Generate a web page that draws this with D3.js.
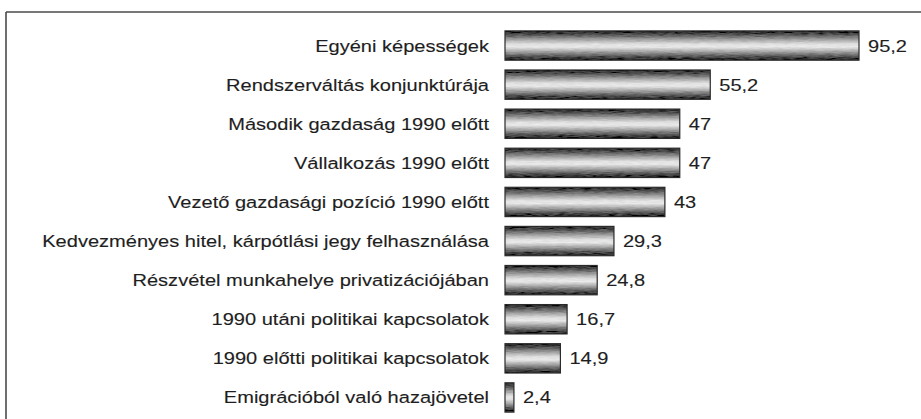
<!DOCTYPE html>
<html>
<head>
<meta charset="utf-8">
<script src="https://cdn.jsdelivr.net/npm/d3@7"></script>
<style>
  html, body { margin: 0; padding: 0; background: #fff; }
  svg { display: block; }
</style>
</head>
<body>
<svg id="chart" width="921" height="419"></svg>
<script>
const categories = [
  "Egyéni képességek",
  "Rendszerváltás konjunktúrája",
  "Második gazdaság 1990 előtt",
  "Vállalkozás 1990 előtt",
  "Vezető gazdasági pozíció 1990 előtt",
  "Kedvezményes hitel, kárpótlási jegy felhasználása",
  "Részvétel munkahelye privatizációjában",
  "1990 utáni politikai kapcsolatok",
  "1990 előtti politikai kapcsolatok",
  "Emigrációból való hazajövetel"
];
const values = [95.2, 55.2, 47, 47, 43, 29.3, 24.8, 16.7, 14.9, 2.4];
const valueLabels = ["95,2", "55,2", "47", "47", "43", "29,3", "24,8", "16,7", "14,9", "2,4"];

const data = categories.map((c, i) => ({ cat: c, v: values[i], lbl: valueLabels[i] }));

const svg = d3.select("#chart");
const W = 921, H = 419;

// frame (top + left visible)
svg.append("line").attr("x1", 6).attr("x2", W).attr("y1", 12).attr("y2", 12)
  .attr("stroke", "#4a4a4a").attr("stroke-width", 1.6);
svg.append("line").attr("x1", 6).attr("x2", 6).attr("y1", 12).attr("y2", H)
  .attr("stroke", "#4a4a4a").attr("stroke-width", 1.6);

const x = d3.scaleLinear().domain([0, 95.2]).range([505, 859]);
const y = d3.scaleBand().domain(categories).range([26, 417]).paddingInner(0.25).paddingOuter(0.125);

const defs = svg.append("defs");
const grad = defs.append("linearGradient").attr("id", "barGrad")
  .attr("x1", 0).attr("y1", 0).attr("x2", 0).attr("y2", 1);
[
  [0, "#222"], [0.12, "#505050"], [0.3, "#a4a4a4"], [0.45, "#e0e0e0"],
  [0.55, "#e8e8e8"], [0.7, "#a8a8a8"], [0.88, "#505050"], [1, "#202020"]
].forEach(([o, c]) => grad.append("stop").attr("offset", o).attr("stop-color", c));

const f = defs.append("filter").attr("id", "grain").attr("x", 0).attr("y", 0).attr("width", 1).attr("height", 1);
f.append("feTurbulence").attr("type", "fractalNoise").attr("baseFrequency", "0.12 0.8")
  .attr("numOctaves", 2).attr("seed", 4).attr("result", "n");
f.append("feColorMatrix").attr("in", "n").attr("type", "matrix")
  .attr("values", "0.33 0.33 0.33 0 0  0.33 0.33 0.33 0 0  0.33 0.33 0.33 0 0  0 0 0 0 1")
  .attr("result", "g");
f.append("feComposite").attr("in", "SourceGraphic").attr("in2", "g").attr("operator", "arithmetic")
  .attr("k1", 0).attr("k2", 1).attr("k3", 0.3).attr("k4", -0.15).attr("result", "c");
f.append("feComposite").attr("in", "c").attr("in2", "SourceGraphic").attr("operator", "in");

const rows = svg.append("g").selectAll("g").data(data).join("g");

rows.append("rect")
  .attr("x", x(0))
  .attr("y", d => y(d.cat))
  .attr("width", d => x(d.v) - x(0))
  .attr("height", y.bandwidth())
  .attr("fill", "url(#barGrad)")
  .attr("filter", "url(#grain)");

rows.append("rect")
  .attr("x", x(0))
  .attr("y", d => y(d.cat))
  .attr("width", d => x(d.v) - x(0))
  .attr("height", y.bandwidth())
  .attr("fill", "none")
  .attr("stroke", "#2a2a2a")
  .attr("stroke-width", 1.2);

const sx = 1.18;
rows.append("text")
  .attr("transform", d => `translate(489,${y(d.cat) + y.bandwidth() / 2 + 6}) scale(${sx},1)`)
  .attr("text-anchor", "end")
  .attr("font-family", "'Liberation Sans', Arial, sans-serif")
  .attr("font-size", 17)
  .attr("fill", "#1e1e1e")
  .attr("stroke", "#1e1e1e")
  .attr("stroke-width", 0.12)
  .text(d => d.cat);

rows.append("text")
  .attr("transform", d => `translate(${x(d.v) + 9},${y(d.cat) + y.bandwidth() / 2 + 6}) scale(${sx},1)`)
  .attr("text-anchor", "start")
  .attr("font-family", "'Liberation Sans', Arial, sans-serif")
  .attr("font-size", 17)
  .attr("fill", "#1e1e1e")
  .attr("stroke", "#1e1e1e")
  .attr("stroke-width", 0.12)
  .text(d => d.lbl);
</script>
</body>
</html>
